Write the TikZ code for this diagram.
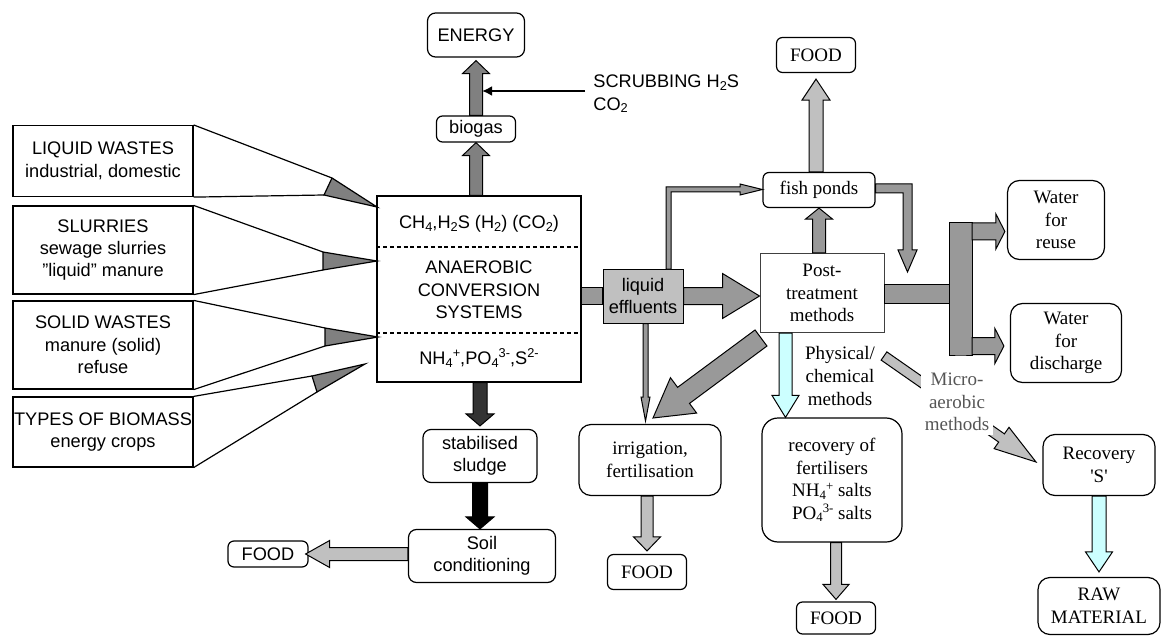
\documentclass[tikz,border=0pt]{standalone}
\usepackage{fontspec}
\setmainfont{Liberation Serif}
\setsansfont{Liberation Sans}
\usetikzlibrary{calc,arrows.meta}

\definecolor{gasgray}{HTML}{808080}
\definecolor{flowgray}{HTML}{999999}
\definecolor{foodgray}{HTML}{C0C0C0}
\definecolor{paleblue}{HTML}{CCFFFF}
\definecolor{sludgegray}{HTML}{333333}
\definecolor{microtext}{HTML}{555555}

\newcommand\sanstxt{\sffamily\fontsize{9.1}{11.2}\selectfont}
\newcommand\seriftxt{\rmfamily\fontsize{9.5}{11.3}\selectfont}
\newcommand\chemsub[1]{\raisebox{-0.3ex}{\fontsize{6.4}{7}\selectfont #1}}
\newcommand\chemsup[1]{\raisebox{0.75ex}{\fontsize{6.4}{7}\selectfont #1}}

% block arrow: from, to, shaft (px), head width (px), head length (px), fill
\newcommand\blockarrow[6]{%
  \filldraw[fill=#6, line width=0.5pt] let \p1=#1, \p2=#2,
      \n1={veclen(\x2-\x1,\y2-\y1)},
      \n2={(\x2-\x1)/\n1}, \n3={(\y2-\y1)/\n1},
      \n4={#3/4}, \n5={#4/4}, \n6={#5/2}
    in ({\x1-\n3*\n4},{\y1+\n2*\n4})
    -- ({\x2-\n2*\n6-\n3*\n4},{\y2-\n3*\n6+\n2*\n4})
    -- ({\x2-\n2*\n6-\n3*\n5},{\y2-\n3*\n6+\n2*\n5})
    -- (\p2)
    -- ({\x2-\n2*\n6+\n3*\n5},{\y2-\n3*\n6-\n2*\n5})
    -- ({\x2-\n2*\n6+\n3*\n4},{\y2-\n3*\n6-\n2*\n4})
    -- ({\x1+\n3*\n4},{\y1-\n2*\n4}) -- cycle;
}

% funnel from an input box into the digester
\newcommand\funnel[4]{%
  \draw[line width=0.6pt] (#1.north east) -- #2;
  \draw[line width=0.6pt] (#1.south east) -- #3;
  \filldraw[fill=gasgray, line width=0.6pt] #2 -- #4 -- #3 -- cycle;
}

\tikzset{
  box/.style={draw, line width=0.6pt, align=center, inner sep=0pt},
  sansbox/.style={box, font=\sanstxt},
  serifbox/.style={box, font=\seriftxt},
  plaintext/.style={align=center, inner sep=0pt},
}

\begin{document}
\begin{tikzpicture}[x=0.5pt, y=-0.5pt]
    \useasboundingbox (0,0) rectangle (1161,636);

    % --- inputs ---
    \node[sansbox, minimum width=90pt, minimum height=35.5pt] (liquidw) at (103,161) {LIQUID WASTES\\industrial, domestic};
    \node[sansbox, minimum width=90pt, minimum height=44pt] (slurry) at (103,250) {SLURRIES\\sewage slurries\\”liquid” manure};
    \node[sansbox, minimum width=90pt, minimum height=44pt] (solidw) at (103,345) {SOLID WASTES\\manure (solid)\\refuse};
    \node[sansbox, minimum width=90pt, minimum height=35pt] (biomass) at (103,432) {TYPES OF BIOMASS\\energy crops};

    % --- digester ---
    \node[box, minimum width=102pt, minimum height=93pt] (conv) at (479,289) {};
    \node[plaintext, font=\sanstxt] (gasmix) at (479,224) {CH\chemsub{4},H\chemsub{2}S (H\chemsub{2}) (CO\chemsub{2})};
    \node[plaintext, font=\sanstxt] (convtxt) at (479,290) {ANAEROBIC\\CONVERSION\\SYSTEMS};
    \node[plaintext, font=\sanstxt] (nutr) at (479,358) {NH\chemsub{4}\chemsup{+},PO\chemsub{4}\chemsup{3-},S\chemsup{2-}};
    \draw[line width=0.9pt, dash pattern=on 2pt off 1.4pt] (conv.west |- 0,247) -- (conv.east |- 0,247);
    \draw[line width=0.9pt, dash pattern=on 2pt off 1.4pt] (conv.west |- 0,333) -- (conv.east |- 0,333);

    \funnel{liquidw}{(332,178)}{(324,195)}{(377,207)}
    \funnel{slurry}{(323,252)}{(323,270)}{(377,261)}
    \funnel{solidw}{(325,328)}{(325,346)}{(378,337)}
    \funnel{biomass}{(312,376)}{(317,392)}{(365,364)}

    % --- gas line ---
    \node[sansbox, rounded corners=3pt, minimum width=39.5pt, minimum height=13pt] (biogas) at (476,129) {biogas};
    \node[sansbox, rounded corners=4pt, minimum width=48.5pt, minimum height=22pt] (energy) at (476,35) {ENERGY};
    \node[plaintext, font=\sanstxt, align=left, anchor=west, inner xsep=4pt] (scrub) at (585,94) {SCRUBBING H\chemsub{2}S\\CO\chemsub{2}};
    \coordinate (scrubin) at (482,91);

    \blockarrow{(conv.north -| biogas.south)}{(biogas.south)}{13}{27}{13}{gasgray}
    \blockarrow{(biogas.north)}{([yshift=-1.5pt]energy.south)}{13}{27}{13}{gasgray}
    \draw[line width=1.3pt, -{Latex[length=5pt, width=5pt]}] (scrub.west |- scrubin) -- (scrubin);

    % --- sludge line ---
    \node[sansbox, rounded corners=4pt, minimum width=57pt, minimum height=26.5pt] (sludge) at (480,456) {stabilised\\sludge};
    \node[sansbox, rounded corners=4pt, minimum width=73.5pt, minimum height=26.5pt] (soil) at (482,556) {Soil\\conditioning};
    \node[sansbox, rounded corners=3pt, minimum width=40pt, minimum height=13pt] (foodsoil) at (268,554) {FOOD};

    \blockarrow{(conv.south -| sludge.north)}{([yshift=1.5pt]sludge.north)}{14}{28}{12}{sludgegray}
    \blockarrow{(sludge.south)}{(sludge.south |- soil.north)}{15}{28}{12}{black}
    \blockarrow{(soil.west |- foodsoil.east)}{([xshift=-1.5pt]foodsoil.east)}{13}{27}{24}{foodgray}

    % --- effluent line ---
    \node[sansbox, fill=foodgray, line width=0.5pt, minimum width=40pt, minimum height=27pt] (liq) at (643,296) {liquid\\effluents};
    \node[serifbox, draw=black!75, line width=0.5pt, minimum width=62pt, minimum height=39.5pt] (post) at (822,293) {Post-\\treatment\\methods};
    \node[serifbox, rounded corners=3pt, minimum width=56pt, minimum height=17.5pt] (fish) at (819,190) {fish ponds};
    \node[serifbox, rounded corners=3pt, minimum width=39.5pt, minimum height=17.5pt] (foodfish) at (816,55) {FOOD};
    \node[serifbox, rounded corners=6pt, minimum width=71pt, minimum height=35.5pt] (irrig) at (650,460) {irrigation,\\fertilisation};
    \node[serifbox, rounded corners=3pt, minimum width=39.5pt, minimum height=17.5pt] (foodirr) at (647,572) {FOOD};

    \blockarrow{(conv.east |- liq.west)}{(liq.west)}{17}{17}{0}{flowgray}
    \blockarrow{(liq.east)}{(post.west |- liq.east)}{17}{45}{37}{flowgray}
    \blockarrow{(liq.south -| 645.5,0)}{(645.5,421)}{5}{9}{24}{flowgray}
    % bent branch to the fish ponds
    \filldraw[fill=flowgray, line width=0.5pt] (666,269) -- (666,187) -- (740,187) -- (740,184)
        -- (fish.west |- 0,189.5) -- (740,195) -- (740,192) -- (671,192) -- (671,269) -- cycle;
    \blockarrow{(post.north -| fish.south)}{(fish.south)}{13}{27}{11}{flowgray}
    \blockarrow{(fish.north -| foodfish.south)}{([yshift=-3pt]foodfish.south)}{14}{28}{21}{foodgray}
    % bent return from the fish ponds
    \filldraw[fill=flowgray, line width=0.5pt] (fish.east |- 0,184) -- (912,184) -- (912,250) -- (917,250)
        -- (907.5,272) -- (898,250) -- (903,250) -- (903,193) -- (fish.east |- 0,193) -- cycle;
    \coordinate (diagstart) at (761,338);
    \coordinate (diagend) at (653,418);
    \blockarrow{(diagstart)}{(diagend)}{20}{44}{38}{flowgray}
    \blockarrow{(irrig.south -| foodirr.north)}{([yshift=1.5pt]foodirr.north)}{12}{27}{14}{foodgray}

    % --- water outlets ---
    \node[serifbox, rounded corners=6pt, minimum width=48.5pt, minimum height=39.5pt] (reuse) at (1056,220) {Water\\for\\reuse};
    \node[serifbox, rounded corners=6pt, minimum width=55.5pt, minimum height=39.5pt] (discharge) at (1066,343) {Water\\for\\discharge};
    \blockarrow{(post.east |- 0,293.5)}{(949,293.5)}{19}{19}{0}{flowgray}
    \blockarrow{(960.5,223)}{(960.5,355)}{23}{23}{0}{flowgray}
    \blockarrow{(972,231.5)}{([xshift=-1pt]reuse.west |- 0,231.5)}{17}{35}{9}{flowgray}
    \blockarrow{(972,346)}{([xshift=-3pt]discharge.west |- 0,346)}{17}{35}{9}{flowgray}

    % --- recovery ---
    \node[serifbox, rounded corners=8pt, minimum width=70pt, minimum height=62pt] (fert) at (832,480) {recovery of\\fertilisers\\NH\chemsub{4}\chemsup{+} salts\\PO\chemsub{4}\chemsup{3-} salts};
    \node[serifbox, rounded corners=3pt, minimum width=39.5pt, minimum height=16pt] (foodfert) at (836,618) {FOOD};
    \node[plaintext, font=\seriftxt] (physical) at (840,376) {Physical/\\chemical\\methods};
    \node[serifbox, rounded corners=6pt, minimum width=56pt, minimum height=30.5pt] (recs) at (1099,465) {Recovery\\\textquotesingle S\textquotesingle};
    \node[serifbox, rounded corners=6pt, minimum width=61pt, minimum height=28.5pt] (raw) at (1099,606) {RAW\\MATERIAL};

    \coordinate (cyanx) at (785.5,0);
    \blockarrow{(post.south -| cyanx)}{(fert.north -| cyanx)}{13}{27}{22}{paleblue}
    \blockarrow{(fert.south -| foodfert.north)}{([yshift=1pt]foodfert.north)}{11}{26}{15}{foodgray}
    \coordinate (microstart) at (884,356);
    \coordinate (microend) at (1036,462);
    \blockarrow{(microstart)}{(microend)}{10}{26}{42}{foodgray}
    \node[plaintext, font=\seriftxt, text=microtext, fill=white, inner sep=2pt] (micro) at (957,402) {Micro-\\aerobic\\methods};
    \blockarrow{(recs.south)}{([yshift=2.5pt]raw.north)}{14}{27}{20}{paleblue}

\end{tikzpicture}
\end{document}
